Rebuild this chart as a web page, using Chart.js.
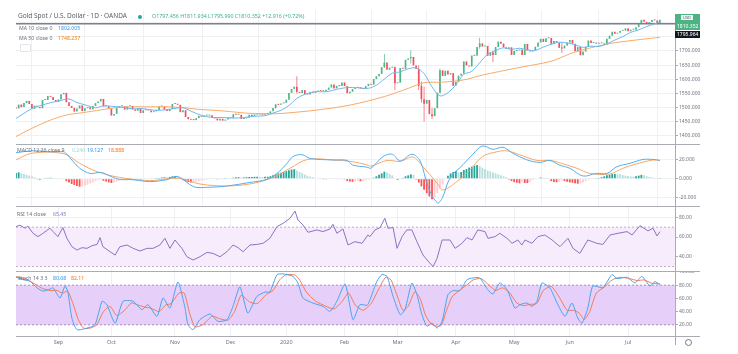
<!DOCTYPE html>
<html>
<head>
<meta charset="utf-8">
<script src="https://cdn.jsdelivr.net/npm/chart.js@4.4.1/dist/chart.umd.min.js"></script>
<style>
  html, body { margin: 0; padding: 0; background: #fff; }
  body { width: 738px; height: 354px; overflow: hidden; font-family: "Noto Sans", "Open Sans", sans-serif; }
  #wrap { position: relative; width: 738px; height: 354px; }
  canvas { position: absolute; left: 0; }
  .t { position: absolute; white-space: nowrap; line-height: 1; color: #5d606b; z-index: 2; }
  .box { position: absolute; z-index: 2; }
</style>
</head>
<body>
<div id="wrap">
  <canvas id="price" width="738" height="144" style="top:0px"></canvas>
  <canvas id="macd" width="738" height="62" style="top:144px"></canvas>
  <canvas id="rsi" width="738" height="65" style="top:206px"></canvas>
  <canvas id="stoch" width="738" height="83" style="top:271px"></canvas>

  <div class="t" style="left:18px;top:13px;font-size:6.5px">Gold Spot / U.S. Dollar · 1D · OANDA</div>
  <div class="box" style="left:138px;top:15px;width:4px;height:4px;border-radius:50%;background:#26a69a"></div>
  <div class="t" style="left:152px;top:14px;font-size:5.3px;color:#3fae8a">O1797.456 H1811.934 L1795.990 C1810.352 +12.916 (+0.72%)</div>

  <div class="t" style="left:19px;top:25.5px;font-size:5.2px;color:#6a6d78">MA 10 close 0</div>
  <div class="t" style="left:58px;top:25.5px;font-size:5.2px;color:#2196f3">1802.005</div>
  <div class="t" style="left:19px;top:35.5px;font-size:5.2px;color:#6a6d78">MA 50 close 0</div>
  <div class="t" style="left:58px;top:35.5px;font-size:5.2px;color:#f57c00">1748.237</div>
  <div class="box" style="left:20px;top:44px;width:9px;height:6px;border:1px solid #e3e4e8;border-radius:1px;background:#fff"></div>

  <div class="t" style="left:17px;top:147.5px;font-size:5.2px;color:#6a6d78">MACD 12 26 close 9</div>
  <div class="t" style="left:72px;top:147.5px;font-size:5.2px;color:#9fd8cf">0.240</div>
  <div class="t" style="left:87px;top:147.5px;font-size:5.2px;color:#2196f3">19.127</div>
  <div class="t" style="left:108px;top:147.5px;font-size:5.2px;color:#ff6d00">18.888</div>

  <div class="t" style="left:17px;top:211.5px;font-size:5.2px;color:#6a6d78">RSI 14 close</div>
  <div class="t" style="left:53px;top:211.5px;font-size:5.2px;color:#8e6cc6">65.45</div>

  <div class="t" style="left:18px;top:275.5px;font-size:5.2px;color:#6a6d78">Stoch 14 3 3</div>
  <div class="t" style="left:53px;top:275.5px;font-size:5.2px;color:#2196f3">80.68</div>
  <div class="t" style="left:71px;top:275.5px;font-size:5.2px;color:#ff6d00">82.11</div>

  <div class="box" style="left:675px;top:14px;width:25px;height:16px;background:#4cb384"></div>
  <div class="t" style="left:681px;top:15px;font-size:4px;color:#5d606b;background:#eaf6f0;padding:0.5px 2px">USD</div>
  <div class="t" style="left:677px;top:23.5px;font-size:5px;color:#fff">1810.352</div>
  <div class="box" style="left:675px;top:31px;width:25px;height:7px;background:#131722"></div>
  <div class="t" style="left:677px;top:32px;font-size:5px;color:#fff">1795.964</div>

  <div class="box" style="left:685px;top:339px;width:5px;height:5px;border:1.3px solid #777;border-radius:50%"></div>
</div>

<script>
// daily closes, 9 Aug 2019 .. 17 Jul 2020 (bar index = position in array)
const firstOpen = 1500.1;
const closes = [
  1497, 1511, 1502, 1516, 1524, 1513, 1496, 1507, 1502, 1498, 1527, 1527, 1541, 1538, 1527, 1520,
  1529, 1547, 1552, 1519, 1506, 1499, 1486, 1497, 1508, 1488, 1498, 1501, 1494, 1506, 1516, 1522, 1531, 1504, 1505, 1497, 1472,
  1478, 1500, 1505, 1505, 1493, 1505, 1506, 1494, 1489, 1498, 1481, 1491, 1491, 1490, 1484, 1487, 1492, 1504, 1505, 1493, 1488, 1495, 1513,
  1514, 1510, 1484, 1491, 1467, 1459, 1457, 1456, 1463, 1471, 1468, 1472, 1472, 1473, 1464, 1462, 1455, 1461, 1454, 1458, 1465,
  1463, 1477, 1475, 1475, 1460, 1462, 1465, 1475, 1470, 1476, 1476, 1476, 1475, 1479, 1478, 1487, 1499, 1511, 1510, 1515, 1517,
  1528, 1552, 1566, 1574, 1556, 1552, 1562, 1548, 1546, 1554, 1552, 1557, 1560, 1558, 1558, 1563, 1571, 1582, 1568, 1577, 1576, 1589,
  1576, 1551, 1556, 1566, 1570, 1572, 1567, 1566, 1576, 1584, 1581, 1601, 1611, 1619, 1643, 1659, 1634, 1641, 1643, 1586,
  1588, 1640, 1637, 1669, 1674, 1679, 1649, 1636, 1577, 1530, 1514, 1527, 1477, 1470, 1498, 1553, 1632, 1612, 1630, 1617, 1622, 1577,
  1591, 1613, 1620, 1663, 1649, 1645, 1684, 1683, 1714, 1727, 1716, 1718, 1683, 1695, 1686, 1714, 1733, 1726, 1713, 1707, 1713, 1686,
  1700, 1702, 1705, 1686, 1725, 1702, 1698, 1702, 1715, 1730, 1743, 1732, 1745, 1746, 1725, 1735, 1729, 1711, 1709, 1719, 1730,
  1739, 1726, 1699, 1714, 1685, 1698, 1715, 1737, 1728, 1730, 1726, 1727, 1727, 1722, 1743, 1754, 1768, 1761, 1764, 1771, 1772, 1780,
  1770, 1775, 1775, 1784, 1795, 1810, 1803, 1798, 1802, 1809, 1808, 1797.436, 1810.352
];
// the longer wicks that show in the picture: [bar, high, low]
const wicks = [
  [98, 1513, 1496], [106, 1611, 1550], [139, 1689, 1640], [143, 1645, 1562], [149, 1703, 1656],
  [152, 1650, 1562], [153, 1592, 1517], [154, 1575, 1451], [157, 1500, 1460], [160, 1638, 1550],
  [175, 1747, 1708], [180, 1700, 1661], [206, 1730, 1693]
];
const hLevel = 1795.964;

// sparse readings: [bar, value]
const ma10 = [
  [0, 1462], [3, 1480], [6, 1497], [9, 1506.6], [13, 1517.3], [17, 1525.6], [20, 1530.6], [23, 1518.2],
  [26, 1510], [30, 1499.3], [33, 1506.8], [36, 1504.8], [40, 1501.9], [44, 1495.5], [48, 1496.7], [52, 1491.1],
  [56, 1491.8], [60, 1497.5], [63, 1499.7], [66, 1487.8], [70, 1472.6], [74, 1465.5], [78, 1465.2], [82, 1463.2],
  [86, 1465], [90, 1469.8], [94, 1471.4], [97, 1481.1], [100, 1490.6], [103, 1507.6], [106, 1532.8], [109, 1547],
  [113, 1556.7], [117, 1555.8], [121, 1564.6], [125, 1571.1], [129, 1570.1], [133, 1568.4], [136, 1579.4], [139, 1600.7],
  [142, 1621.6], [145, 1626.4], [148, 1637.1], [151, 1640.1], [154, 1620.5], [157, 1573.3], [160, 1541.4], [163, 1553],
  [166, 1580.2], [169, 1617.7], [172, 1628.1], [175, 1658.9], [178, 1688.2], [181, 1702], [184, 1711.1], [187, 1705.6],
  [190, 1709.9], [193, 1703.9], [196, 1702.1], [199, 1713.8], [202, 1723.8], [205, 1731.1], [208, 1728.1], [211, 1722.2],
  [214, 1713], [217, 1717.1], [220, 1715.9], [223, 1725.3], [226, 1738.6], [229, 1750.9], [232, 1765.8], [235, 1774.7],
  [238, 1786.2], [241, 1795.9], [243, 1802.005]
];
const ma50 = [
  [0, 1398], [6, 1427], [13, 1456], [19, 1474], [25, 1482], [32, 1492], [38, 1500], [44, 1503], [51, 1503],
  [57, 1503], [63, 1500], [69, 1494], [76, 1490], [82, 1485], [88, 1480], [96, 1478], [101, 1480], [114, 1492],
  [126, 1509], [139, 1539], [148, 1568], [154, 1588], [161, 1590], [169, 1598], [176, 1615], [189, 1640],
  [202, 1664], [209, 1690], [213, 1702], [224, 1726], [236, 1741], [243, 1748.237]
];

const macdHist = [
  6, 6.6, 5.5, 4.8, 4, 3.2, 2.4, 1.5, -0.8, -1.2,
  -0.5, 0.3, 0.8, 1, 0.6, -0.5, -0.3, 0.4, -0.5, -2.5,
  -4, -5.5, -6.5, -7.5, -8.3, -8, -7.2, -6.3, -5, -3.8,
  -2.5, -1.6, -1.2, -2.2, -3, -3.8, -4.5, -4, -3, -2,
  -1, -0.6, -0.3, 0.3, -0.4, -0.8, -0.5, -1, -0.8, -0.5,
  -0.3, -0.6, -0.4, 0.2, 0.8, 1.2, 1.5, 1.4, 1.8, 2.5,
  2.8, 2.2, -0.5, -1.5, -2.8, -3.6, -4, -3.8, -3.2, -2.5,
  -2, -1.5, -1, -0.6, -0.7, -0.6, -0.8, -0.4, -0.3, 0.2,
  0.5, 0.6, 1, 1.5, 1.6, 1.2, 1.3, 1.5, 1.8, 1.8,
  2, 2, 1.9, 1.8, 1.9, 2, 2.6, 3.5, 4.5, 5.5,
  6.3, 7, 7.8, 8.8, 9.6, 9.8, 8.5, 7, 5.8, 4.3,
  3.2, 2.2, 1.5, 0.8, 0.5, 0.2, -0.2, -0.3, 0, 0.5,
  0, -0.4, -0.6, -0.2, -0.8, -2.5, -3, -3.2, -2.8, -2.4,
  -2.6, -2.4, -1.8, -1.2, -0.3, 1, 2.5, 4, 5.5, 7.3,
  6.5, 5, 3.5, 0.5, -1.4, -0.6, 0.8, 2.5, 3.5, 4.5,
  4, -1, -4, -8, -11.5, -15, -18.5, -21.5, -19, -15,
  -10, -6, 0, 3, 5.5, 7, 8, 6.5, 7, 9,
  10, 11.5, 12.5, 13.5, 14.3, 13, 11.5, 10, 8.5, 7.5,
  6.5, 5.5, 4.5, 3.5, 2.5, 1.5, -1, -2.5, -3.5, -4.2,
  -4.8, -3, -4.5, -4.5, -3.5, -1.5, -0.5, 0.5, 1.2, 1,
  0.3, -0.5, -2.5, -3.5, -3.8, -3, -2, -2.5, -3.2, -3.8,
  -4.2, -4.8, -5.2, -5, -4, -2.5, -1.2, -0.5, 0, 0.3,
  0.6, 1.5, 2.5, 3.5, 4.2, 4.8, 5, 4.8, 4.5, 3.8,
  3.2, 2.8, 2.4, 2.2, 2.5, 3.2, 4, 3.5, 2.5, 1.8,
  1.2, 0.8, 0.2, 0.24
];
const macdLine = [
  [0, 27], [6, 29], [13, 28], [18, 28], [19, 26], [24, 11], [28, 5.5], [32, 6.6], [35.5, 2.8], [39, -0.7],
  [44, -1], [50.5, -3], [57, -1], [61, 2.3], [67, -8.3], [72, -9], [79.6, -7.6], [88, -4], [94.7, -0.7],
  [98.5, 5.5], [102.3, 16], [104.5, 23], [108, 25], [111, 21], [119.6, 19.5], [125, 19], [127, 14.3],
  [132.5, 12], [134, 11], [138.5, 23], [142, 25.5], [145, 18.5], [149.4, 25.5], [152.5, 18.5], [155.5, -8.3],
  [159, -25], [160.8, -20.5], [163.8, 0.7], [168.7, 14.6], [172.5, 25.7], [176, 34], [180, 30.6], [183.8, 32.7],
  [187.5, 26.5], [192.8, 19.6], [197.7, 17], [201.5, 19], [205, 14.3], [209, 10.8], [214, 2.8], [219, 5.5],
  [223, 5.5], [226.8, 12.5], [231.7, 16], [236.6, 20], [240.4, 20], [243, 19.127]
];
const macdSignal = [
  [0, 19.6], [6, 26.5], [18, 26], [24, 16], [30.6, 7.3], [39, 1.4], [50.5, -2], [61, 0.5], [69.4, -5.5],
  [79.6, -7.6], [89.4, -4.9], [97, 1.4], [103.4, 10.8], [110, 20], [119.6, 19.5], [127, 17.7], [132.5, 14.3],
  [134, 13], [140, 19], [145, 18], [149.8, 22.5], [153.6, 12.5], [159, -4.9], [161, -11.8], [166.4, -3],
  [171.3, 9], [176, 23], [181.5, 28], [185.3, 29], [190, 25], [196.6, 19], [201.5, 19], [206.4, 15.5],
  [211.7, 10.8], [216.6, 5.5], [224, 4.9], [229, 10.8], [234.3, 15.5], [240.4, 19.5], [243, 18.888]
];

const rsiLine = [
  [0, 70.5], [1.5, 72], [3.4, 69], [4.5, 71], [6.4, 63.8], [8.3, 60.4], [10.2, 63.8], [12.8, 68.9], [14, 65.5],
  [15.8, 60.4], [17.7, 69.6], [19.2, 58.7], [21.1, 50.2], [23, 46.8], [24.9, 49.2], [26.8, 48.5], [28.7, 51.2],
  [30.6, 52.5], [31.7, 59.4], [32.8, 50.2], [35.5, 45.1], [37.4, 41.7], [39.2, 50.2], [41.9, 51.9], [44.2, 48.5],
  [46.8, 45.8], [49.4, 48.5], [51.7, 48.5], [54.3, 51.9], [56.2, 58.7], [58.1, 48.5], [60, 57], [62.6, 48.5],
  [64.5, 40], [66.8, 36.6], [69.4, 40], [72.1, 44.4], [74.3, 43.4], [77, 40], [79.6, 45.1], [81.9, 51.9],
  [83.8, 49.2], [85.7, 45.1], [88.3, 51.9], [90.9, 52.5], [93.2, 53.6], [95.8, 58.7], [98.5, 70.5], [100.8, 73.9],
  [103.4, 79], [105.3, 86.4], [106.4, 77.3], [108.3, 72.2], [110.2, 64.8], [113.6, 67.2], [115.8, 65.5],
  [118.5, 68.2], [119.6, 72.9], [121.1, 63.8], [123.4, 68.2], [125.3, 51.9], [127.9, 55.3], [130.6, 53.6],
  [132.8, 62.1], [133.6, 60.4], [135.5, 67.2], [137.4, 69.6], [139.2, 79], [140.4, 68.9], [142.3, 69.6],
  [143.8, 48.5], [145.7, 60.4], [147.5, 67.2], [149.4, 67.2], [151.3, 55.3], [153.6, 41.7], [155.5, 35.6],
  [157.4, 29.9], [158.9, 38.3], [160.8, 57], [163.8, 57], [165.7, 48.5], [168.3, 53.6], [170.2, 59.4],
  [172.1, 57], [174.3, 67.2], [177, 65.5], [178.1, 58.7], [180.8, 60.4], [182.6, 63.8], [185.3, 58.7],
  [187.2, 53.6], [189.4, 57], [190.9, 51.9], [192.1, 57], [194.7, 53.6], [197, 60.4], [199.6, 62.1],
  [202.3, 57], [205.3, 50.2], [208.3, 58.7], [210.2, 48.5], [212.8, 43.4], [215.8, 57], [219.2, 53.6],
  [221.5, 52.5], [224.2, 62.1], [227.2, 63.8], [230.6, 65.5], [232.5, 62.1], [235.5, 71.6], [238.5, 66.2],
  [240.4, 68.9], [241.9, 61.1], [243, 65.45]
];
const rsiBands = [70, 30];

const stochK = [
  [0, 92], [3, 88], [5.3, 86], [7.9, 76], [10.2, 71], [12.8, 74], [14, 76], [16.6, 60.6], [18.5, 78.8],
  [19.6, 69], [21.1, 30], [23, 12.6], [26.8, 15], [29.8, 20], [32.5, 55.6], [34.3, 50.5], [37.4, 22.5],
  [40.4, 55.6], [44.2, 55.6], [47.5, 43], [49.8, 50.5], [53.2, 32.8], [55.5, 60.6], [58.1, 45.4], [61.1, 85],
  [63.8, 45.4], [64.9, 20], [66.8, 12.6], [69.4, 27.7], [73.2, 36.3], [76.2, 25.2], [79.6, 27.7], [81.9, 48],
  [84.5, 77.3], [87.5, 37.8], [90.9, 63], [94, 69.7], [95.8, 69.7], [98.5, 96], [100.8, 97], [104.5, 93.4],
  [106.4, 83.3], [108.3, 60.6], [112, 53], [115.8, 48], [118.5, 40.4], [121.1, 55.6], [124.2, 81.8],
  [127.2, 27.7], [129.8, 50.5], [132.5, 49.5], [133.6, 58], [136.2, 86], [138.1, 96], [140, 93.4],
  [142.3, 63], [145, 35.4], [146.8, 43], [149.4, 83.3], [151.3, 65.6], [153.2, 35.4], [155.1, 17.7],
  [157, 22.7], [158.9, 15], [160.8, 25.2], [163, 65.6], [164.9, 71.7], [167.5, 71.7], [170.2, 88.4],
  [172.5, 91], [175, 91], [178, 73.2], [180, 66.7], [182.6, 83.3], [185.3, 73.2], [188.3, 45.4], [190.2, 50.5],
  [192.8, 53], [194.7, 48], [196.6, 55.6], [198.5, 83.3], [201.5, 75.7], [204.5, 50.5], [207.2, 32.8],
  [209.8, 53], [212, 30.3], [213.6, 22.7], [215.8, 45.4], [217.7, 78.8], [221.5, 76.2], [224.9, 96],
  [226.8, 90], [230.6, 92], [233.6, 83.3], [236.2, 93.4], [239.2, 78.8], [241.1, 85.4], [243, 80.68]
];
const stochD = [
  [0, 93], [4, 89], [7, 82], [10, 75], [13, 72], [15.5, 72], [17.5, 68], [19.5, 71], [21.5, 52], [23.5, 28],
  [25.5, 15], [28, 15], [30.5, 20], [33, 40], [35.5, 48], [38, 34], [41, 42], [43.5, 53], [46, 50], [48.5, 47],
  [51, 45], [54, 40], [56.5, 50], [58.5, 52], [61.5, 68], [63.5, 68], [65.5, 38], [67.5, 17], [70.5, 20],
  [74, 33], [77, 29], [80, 27], [82.5, 40], [85, 65], [88, 55], [91, 52], [94.5, 66], [97, 72], [99.5, 88],
  [102, 96], [105.5, 95], [107.5, 85], [109.5, 70], [113, 56], [117, 48], [120, 44], [123, 55], [125.5, 68],
  [128, 50], [131, 42], [134, 52], [137, 75], [139.5, 92], [141.5, 88], [143.5, 68], [146, 42], [148, 48],
  [150.5, 70], [152.5, 60], [154.5, 35], [156.5, 22], [158.5, 18], [160.5, 19], [162.5, 42], [164.5, 62],
  [167, 71], [170, 80], [172.5, 88], [175.5, 90], [178.5, 80], [181, 72], [183.5, 76], [186, 70], [189, 53],
  [191.5, 49], [194, 51], [196.5, 52], [199, 72], [202, 78], [205, 62], [208, 42], [210.5, 42], [212.5, 38],
  [214.5, 28], [216.5, 40], [219, 68], [222, 77], [225, 88], [228, 92], [231.5, 90], [234.5, 87], [237, 88],
  [240, 83], [243, 82.11]
];
const stochBands = [80, 20];

const monthIdx = [16, 36, 60, 81, 102, 124, 144, 166, 188, 209, 231];
const monthLabels = ["Sep", "Oct", "Nov", "Dec", "2020", "Feb", "Mar", "Apr", "May", "Jun", "Jul"];
const priceTicks = [1400, 1450, 1500, 1550, 1600, 1650, 1700, 1750, 1800];
const macdTicks = [-20, 0, 20];
const rsiTicks = [40, 60, 80];
const stochTicks = [20, 40, 60, 80, 100];

const X_MAX = 248.7;
const UP = "#4fb586";
const DOWN = "#ee5060";
const GRID = "#eef0f4";
const FRAME = "#a9acb3";
const AXIS_TEXT = "#6f7380";

Chart.defaults.font.family = '"Noto Sans", "Open Sans", sans-serif';

const pts = (arr) => arr.map(([x, y]) => ({ x, y }));
const level = (v) => [{ x: 0, y: v }, { x: X_MAX, y: v }];
const openAt = (i) => (i ? closes[i - 1] : firstOpen);

// frame lines between panes and the price-axis rule
const paneFrame = {
  id: "paneFrame",
  afterDraw(chart, _args, opts) {
    const { ctx, chartArea } = chart;
    ctx.save();
    ctx.strokeStyle = FRAME;
    ctx.lineWidth = 1;
    ctx.beginPath();
    if (opts.topLine) { ctx.moveTo(16, 0.5); ctx.lineTo(700, 0.5); }
    if (opts.bottomLine) { ctx.moveTo(16, chartArea.bottom + 0.5); ctx.lineTo(700, chartArea.bottom + 0.5); }
    ctx.moveTo(chartArea.right + 0.5, opts.axisFrom || 0);
    ctx.lineTo(chartArea.right + 0.5, opts.axisTo || chart.height);
    ctx.stroke();
    ctx.restore();
  },
};

function paneOptions({ min, max, ticks, fmt, padTop = 0, last = false, frame }) {
  return {
    responsive: false,
    animation: false,
    events: [],
    layout: { padding: { left: 16, top: padTop, right: 0, bottom: 0 } },
    plugins: { legend: { display: false }, tooltip: { enabled: false }, paneFrame: frame },
    scales: {
      x: {
        type: "linear",
        min: 0,
        max: X_MAX,
        offset: false,
        afterBuildTicks: (s) => { s.ticks = monthIdx.map((v) => ({ value: v })); },
        ticks: {
          display: last,
          autoSkip: false,
          maxRotation: 0,
          padding: 3,
          color: AXIS_TEXT,
          font: { size: 5.5 },
          callback: (v) => monthLabels[monthIdx.indexOf(v)],
        },
        grid: { color: GRID, drawTicks: false },
        border: { display: false },
        afterFit: (s) => { s.height = last ? 18 : 0; s.paddingLeft = 0; s.paddingRight = 0; },
      },
      y: {
        position: "right",
        min,
        max,
        afterBuildTicks: (s) => { s.ticks = ticks.map((v) => ({ value: v })); },
        ticks: { padding: 1, color: AXIS_TEXT, font: { size: 5 }, callback: fmt },
        grid: { color: GRID, tickLength: 3, tickColor: "#a9acb3" },
        border: { display: false },
        afterFit: (s) => { s.width = 63; s.paddingTop = 0; s.paddingBottom = 0; },
      },
    },
  };
}

const lineDs = (data, color, extra = {}) => ({
  type: "line", data, borderColor: color, borderWidth: 1, pointRadius: 0, fill: false, tension: 0, ...extra,
});

// price pane
new Chart(document.getElementById("price"), {
  type: "bar",
  data: {
    datasets: [
      lineDs(pts(ma10), "#6db8f0", { tension: 0.3 }),
      lineDs(pts(ma50), "#f8aa68", { tension: 0.3 }),
      lineDs(level(hLevel), "#7d8088", { borderWidth: 1.5 }),
      {
        data: closes.map((c, i) => ({ x: i, y: [openAt(i), c] })),
        backgroundColor: closes.map((c, i) => (c >= openAt(i) ? UP : DOWN)),
        barThickness: 1.7, minBarLength: 1, grouped: false, inflateAmount: 0,
      },
      {
        data: wicks.map(([i, h, l]) => ({ x: i, y: [l, h] })),
        backgroundColor: wicks.map(([i]) => (closes[i] >= openAt(i) ? UP : DOWN)),
        barThickness: 0.7, grouped: false, inflateAmount: 0,
      },
    ],
  },
  options: paneOptions({
    min: 1371.7, max: 1844.7, ticks: priceTicks, padTop: 10,
    fmt: (v) => (v > 1700 ? "" : v.toFixed(3)),
    frame: { axisFrom: 14 },
  }),
  plugins: [paneFrame],
});

// MACD pane
new Chart(document.getElementById("macd"), {
  type: "bar",
  data: {
    datasets: [
      lineDs(pts(macdLine), "#55aef0", { tension: 0.35 }),
      lineDs(pts(macdSignal), "#f9a868", { tension: 0.35 }),
      {
        data: macdHist.map((v, i) => ({ x: i, y: v })),
        backgroundColor: macdHist.map((v, i) => {
          const prev = i ? macdHist[i - 1] : v;
          if (v >= 0) return v >= prev ? "#26a69a" : "#b2dfdb";
          return v <= prev ? "#ff5252" : "#ffcdd2";
        }),
        barThickness: 1.8, grouped: false, inflateAmount: 0,
      },
    ],
  },
  options: paneOptions({
    min: -28.4, max: 36.1, ticks: macdTicks,
    fmt: (v) => v.toFixed(3),
    frame: { topLine: true },
  }),
  plugins: [paneFrame],
});

// RSI pane
new Chart(document.getElementById("rsi"), {
  type: "line",
  data: {
    datasets: [
      lineDs(pts(rsiLine), "#9071c4"),
      lineDs(level(rsiBands[0]), "#bcaed0", { borderDash: [2, 2] }),
      lineDs(level(rsiBands[1]), "#bcaed0", { borderDash: [2, 2], fill: "-1", backgroundColor: "#f6ecfc" }),
    ],
  },
  options: paneOptions({
    min: 25.5, max: 91.5, ticks: rsiTicks,
    fmt: (v) => v.toFixed(2),
    frame: { topLine: true },
  }),
  plugins: [paneFrame],
});

// Stochastic pane
new Chart(document.getElementById("stoch"), {
  type: "line",
  data: {
    datasets: [
      lineDs(pts(stochK), "#4aa3ee", { tension: 0.2 }),
      lineDs(pts(stochD), "#f57a55", { tension: 0.2 }),
      lineDs(level(stochBands[0]), "#a98ac7", { borderDash: [2, 2] }),
      lineDs(level(stochBands[1]), "#a98ac7", { borderDash: [2, 2], fill: "-1", backgroundColor: "#e6d0f9" }),
    ],
  },
  options: paneOptions({
    min: 3, max: 101.5, ticks: stochTicks, last: true,
    fmt: (v) => v.toFixed(2),
    frame: { topLine: true, bottomLine: true, axisTo: 74 },
  }),
  plugins: [paneFrame],
});
</script>
</body>
</html>
